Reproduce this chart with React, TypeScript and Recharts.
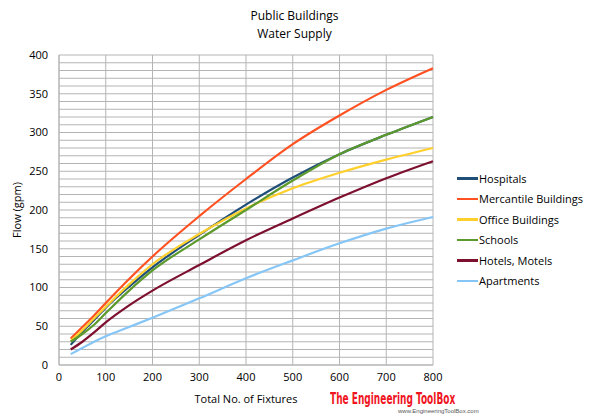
import React from "react";
import { LineChart, Line, XAxis, YAxis, CartesianGrid, Legend } from "recharts";

// number of fixtures
const fixtures = [25, 50, 75, 100, 150, 200, 300, 400, 500, 600, 700, 800];

// flow (gpm)
const hospitals = [26, 43, 58, 74, 101, 126, 168, 207, 242, 272, 297, 320];
const mercantile = [34, 49, 64, 80, 111, 140, 192, 240, 285, 322, 355, 383];
const office = [31, 45, 60, 75, 104, 130, 169, 202, 228, 248, 265, 280];
const schools = [30, 40, 52, 67, 96, 122, 162, 200, 238, 272, 297, 320];
const hotels = [20, 30, 42, 55, 77, 96, 129, 161, 189, 216, 241, 263];
const apartments = [14, 22, 30, 37, 49, 61, 86, 112, 135, 157, 176, 191];

const xTicks = [0, 100, 200, 300, 400, 500, 600, 700, 800];
const yTicks = [0, 50, 100, 150, 200, 250, 300, 350, 400];
const yGrid = [
  0, 10, 20, 30, 40, 50, 60, 70, 80, 90, 100, 110, 120, 130, 140, 150, 160,
  170, 180, 190, 200, 210, 220, 230, 240, 250, 260, 270, 280, 290, 300, 310,
  320, 330, 340, 350, 360, 370, 380, 390, 400,
];
const yMax = 400;

const series = [
  { key: "hospitals", name: "Hospitals", color: "#1f4e79" },
  { key: "mercantile", name: "Mercantile Buildings", color: "#ff5121" },
  { key: "office", name: "Office Buildings", color: "#ffcf2b" },
  { key: "schools", name: "Schools", color: "#5c9a2c" },
  { key: "hotels", name: "Hotels, Motels", color: "#7d0f2f" },
  { key: "apartments", name: "Apartments", color: "#86c6f6" },
];

const data = fixtures.map((n, i) => ({
  n,
  hospitals: hospitals[i],
  mercantile: mercantile[i],
  office: office[i],
  schools: schools[i],
  hotels: hotels[i],
  apartments: apartments[i],
}));

const font = "'Open Sans', sans-serif";

const LegendList = () => (
  <div style={{ fontFamily: font, fontSize: 11, color: "#000" }}>
    {series.map((s) => (
      <div
        key={s.key}
        style={{ display: "flex", alignItems: "center", height: 20.5 }}
      >
        <span
          style={{
            display: "inline-block",
            width: 21,
            height: 2.5,
            background: s.color,
            marginRight: 1,
          }}
        />
        {s.name}
      </div>
    ))}
  </div>
);

// minor grid lines every 10 gpm
const gridRows = ({ yAxis, offset }: any) => {
  if (yAxis && typeof yAxis.scale === "function") {
    return yGrid.map((v) => yAxis.scale(v));
  }
  return yGrid.map((v) => offset.top + offset.height * (1 - v / yMax));
};

export default function App() {
  return (
    <div
      style={{
        position: "absolute",
        left: 0,
        top: 0,
        width: 589,
        height: 418,
        background: "#fff",
        fontFamily: font,
      }}
    >
      <div
        style={{
          position: "absolute",
          left: 0,
          width: 589,
          top: 7,
          textAlign: "center",
          fontSize: 12,
          lineHeight: "18px",
          color: "#000",
        }}
      >
        <div>Public Buildings</div>
        <div>Water Supply</div>
      </div>
      <LineChart
        width={589}
        height={418}
        data={data}
        margin={{ top: 55, right: 156, left: 8, bottom: 13 }}
      >
        <CartesianGrid
          stroke="#b4b4b4"
          strokeWidth={1}
          horizontalCoordinatesGenerator={gridRows}
        />
        <XAxis
          dataKey="n"
          type="number"
          domain={[0, 800]}
          ticks={xTicks}
          axisLine={{ stroke: "#b4b4b4" }}
          tickLine={false}
          tick={{ fill: "#000", fontSize: 11, fontFamily: font }}
          height={40}
          label={{
            value: "Total No. of Fixtures",
            position: "insideBottom",
            offset: 2,
            fill: "#000",
            fontSize: 11,
            fontFamily: font,
          }}
        />
        <YAxis
          type="number"
          domain={[0, yMax]}
          ticks={yTicks}
          width={51}
          axisLine={{ stroke: "#b4b4b4" }}
          tickLine={false}
          tickMargin={5}
          tick={{ fill: "#000", fontSize: 11, fontFamily: font }}
          label={{
            value: "Flow (gpm)",
            angle: -90,
            position: "insideLeft",
            offset: 9,
            fill: "#000",
            fontSize: 11,
            fontFamily: font,
            style: { textAnchor: "middle" },
          }}
        />
        <Legend
          layout="vertical"
          align="center"
          verticalAlign="middle"
          content={() => <LegendList />}
          wrapperStyle={{ left: 457, top: 168, width: 130 }}
        />
        {series.map((s) => (
          <Line
            key={s.key}
            type="monotone"
            dataKey={s.key}
            name={s.name}
            stroke={s.color}
            strokeWidth={2.2}
            dot={false}
            isAnimationActive={false}
          />
        ))}
      </LineChart>
      <div
        style={{
          position: "absolute",
          left: 330,
          top: 390,
          fontFamily: "'DejaVu Sans', sans-serif",
          fontWeight: "bold",
          fontSize: 15,
          color: "#f0141e",
          whiteSpace: "nowrap",
          transform: "scaleX(0.6)",
          transformOrigin: "left top",
        }}
      >
        The Engineering ToolBox
      </div>
      <div
        style={{
          position: "absolute",
          left: 398,
          top: 408,
          fontFamily: "'Liberation Sans', sans-serif",
          fontSize: 6,
          color: "#555",
          whiteSpace: "nowrap",
        }}
      >
        www.EngineeringToolBox.com
      </div>
    </div>
  );
}
